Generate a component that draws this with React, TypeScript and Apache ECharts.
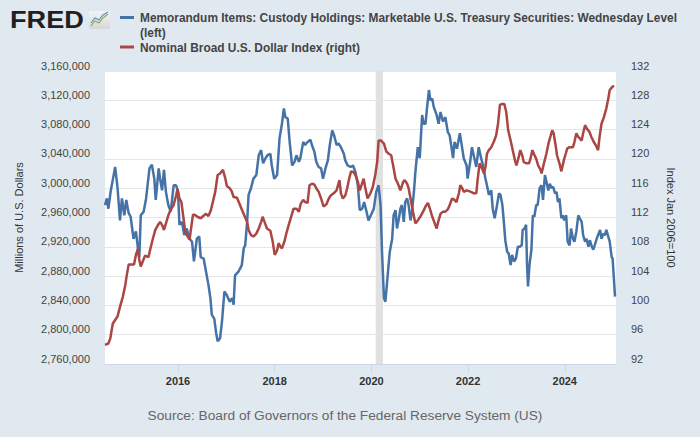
import React, { useEffect, useRef } from "react";
import * as echarts from "echarts";

// Custody holdings (left axis), decimal year / millions of dollars
const custodyYears = [
  2014.49, 2014.53, 2014.56, 2014.61, 2014.65, 2014.70, 2014.75, 2014.80, 2014.84, 2014.89, 2014.93, 2014.98,
  2015.02, 2015.08, 2015.13, 2015.18, 2015.20, 2015.23, 2015.29, 2015.34, 2015.41, 2015.46, 2015.51, 2015.54,
  2015.60, 2015.63, 2015.67, 2015.71, 2015.75, 2015.80, 2015.85, 2015.91, 2015.96, 2016.00, 2016.03, 2016.08,
  2016.13, 2016.18, 2016.24, 2016.29, 2016.33, 2016.39, 2016.44, 2016.47, 2016.53, 2016.58, 2016.63, 2016.67,
  2016.70, 2016.75, 2016.79, 2016.82, 2016.87, 2016.91, 2016.96, 2017.01, 2017.07, 2017.12, 2017.15, 2017.18,
  2017.25, 2017.32, 2017.36, 2017.39, 2017.43, 2017.46, 2017.51, 2017.56, 2017.62, 2017.67, 2017.72, 2017.76,
  2017.81, 2017.85, 2017.91, 2017.94, 2017.99, 2018.05, 2018.10, 2018.15, 2018.19, 2018.22, 2018.27, 2018.31,
  2018.36, 2018.41, 2018.45, 2018.50, 2018.53, 2018.59, 2018.63, 2018.68, 2018.74, 2018.77, 2018.82, 2018.86,
  2018.91, 2018.96, 2019.00, 2019.05, 2019.10, 2019.14, 2019.19, 2019.23, 2019.28, 2019.32, 2019.37, 2019.43,
  2019.46, 2019.51, 2019.57, 2019.62, 2019.67, 2019.72, 2019.76, 2019.81, 2019.85, 2019.90, 2019.94, 2019.99,
  2020.05, 2020.10, 2020.15, 2020.19, 2020.22, 2020.26, 2020.29, 2020.32, 2020.38, 2020.43, 2020.46, 2020.50,
  2020.53, 2020.57, 2020.60, 2020.63, 2020.67, 2020.70, 2020.74, 2020.77, 2020.81, 2020.84, 2020.88, 2020.91,
  2020.96, 2021.00, 2021.05, 2021.08, 2021.12, 2021.15, 2021.19, 2021.22, 2021.26, 2021.29, 2021.35, 2021.39,
  2021.43, 2021.48, 2021.53, 2021.58, 2021.62, 2021.65, 2021.69, 2021.72, 2021.77, 2021.83, 2021.88, 2021.91,
  2021.97, 2021.99, 2022.04, 2022.08, 2022.13, 2022.17, 2022.22, 2022.27, 2022.31, 2022.36, 2022.39, 2022.43,
  2022.48, 2022.51, 2022.55, 2022.60, 2022.64, 2022.67, 2022.71, 2022.74, 2022.77, 2022.81, 2022.84, 2022.88,
  2022.91, 2022.95, 2022.99, 2023.03, 2023.07, 2023.11, 2023.13, 2023.17, 2023.20, 2023.22, 2023.24, 2023.27,
  2023.31, 2023.34, 2023.37, 2023.41, 2023.44, 2023.48, 2023.52, 2023.55, 2023.59, 2023.62, 2023.66, 2023.69,
  2023.73, 2023.76, 2023.80, 2023.83, 2023.86, 2023.89, 2023.93, 2023.96, 2023.99, 2024.03, 2024.06, 2024.10,
  2024.13, 2024.17, 2024.20, 2024.24, 2024.28, 2024.31, 2024.35, 2024.38, 2024.42, 2024.45, 2024.49, 2024.52,
  2024.55, 2024.59, 2024.62, 2024.66, 2024.69, 2024.73, 2024.76, 2024.80, 2024.83, 2024.86, 2024.90, 2024.93,
  2024.97, 2024.99, 2025.04,
];
const custodyValues = [
  2977000, 2986000, 2972000, 2997000, 3011000, 3029000, 3000000, 2956000, 2986000, 2963000, 2984000, 2966000,
  2961000, 2931000, 2941000, 2913000, 2906000, 2963000, 2968000, 2986000, 3027000, 3032000, 3013000, 2984000,
  3027000, 3013000, 2997000, 3025000, 2995000, 2977000, 2968000, 3004000, 3004000, 2995000, 2950000, 2954000,
  2936000, 2945000, 2931000, 2927000, 2900000, 2931000, 2934000, 2906000, 2904000, 2886000, 2868000, 2850000,
  2827000, 2822000, 2802000, 2791000, 2795000, 2818000, 2859000, 2854000, 2845000, 2850000, 2841000, 2881000,
  2886000, 2895000, 2918000, 2922000, 2954000, 2991000, 3000000, 3013000, 3018000, 3045000, 3052000, 3034000,
  3041000, 3045000, 3047000, 3031000, 3013000, 3018000, 3068000, 3088000, 3109000, 3097000, 3095000, 3063000,
  3031000, 3036000, 3045000, 3036000, 3041000, 3063000, 3059000, 3063000, 3066000, 3059000, 3050000, 3036000,
  3029000, 3027000, 3013000, 3027000, 3038000, 3059000, 3079000, 3072000, 3059000, 3061000, 3056000, 3047000,
  3038000, 3031000, 3029000, 3031000, 3022000, 3004000, 2970000, 2972000, 2981000, 2968000, 2956000, 2963000,
  2972000, 2995000, 3004000, 2977000, 2913000, 2850000, 2845000, 2868000, 2913000, 2931000, 2963000, 2970000,
  2945000, 2959000, 2972000, 2977000, 2954000, 2981000, 2986000, 2977000, 2956000, 2968000, 2995000, 3022000,
  3056000, 3041000, 3100000, 3088000, 3088000, 3109000, 3134000, 3120000, 3122000, 3111000, 3100000, 3088000,
  3104000, 3091000, 3097000, 3077000, 3072000, 3059000, 3041000, 3063000, 3054000, 3075000, 3054000, 3041000,
  3031000, 3013000, 3034000, 3056000, 3041000, 3029000, 3056000, 3041000, 3031000, 3013000, 3004000, 2991000,
  2997000, 2972000, 2959000, 2977000, 2993000, 2991000, 2977000, 2954000, 2929000, 2913000, 2911000, 2895000,
  2909000, 2900000, 2904000, 2920000, 2920000, 2922000, 2943000, 2945000, 2950000, 2895000, 2866000, 2895000,
  2916000, 2963000, 2961000, 2977000, 2977000, 3000000, 3004000, 2984000, 3018000, 3009000, 2997000, 3006000,
  3000000, 3002000, 2993000, 2995000, 2981000, 2986000, 2959000, 2963000, 2956000, 2963000, 2927000, 2922000,
  2945000, 2931000, 2927000, 2941000, 2963000, 2959000, 2954000, 2936000, 2927000, 2931000, 2920000, 2929000,
  2922000, 2916000, 2922000, 2931000, 2936000, 2943000, 2931000, 2938000, 2936000, 2943000, 2934000, 2927000,
  2906000, 2904000, 2852000,
];

// Nominal Broad U.S. Dollar Index (right axis)
const dollarYears = [
  2014.49, 2014.56, 2014.60, 2014.65, 2014.70, 2014.75, 2014.80, 2014.86, 2014.91, 2014.94, 2014.98, 2015.04,
  2015.09, 2015.13, 2015.17, 2015.20, 2015.23, 2015.27, 2015.32, 2015.39, 2015.42, 2015.48, 2015.53, 2015.58,
  2015.63, 2015.67, 2015.71, 2015.76, 2015.80, 2015.85, 2015.91, 2015.96, 2015.99, 2016.03, 2016.07, 2016.11,
  2016.15, 2016.20, 2016.24, 2016.27, 2016.31, 2016.36, 2016.40, 2016.47, 2016.54, 2016.58, 2016.63, 2016.68,
  2016.72, 2016.77, 2016.82, 2016.87, 2016.93, 2016.98, 2017.01, 2017.07, 2017.11, 2017.15, 2017.22, 2017.27,
  2017.32, 2017.37, 2017.43, 2017.46, 2017.51, 2017.56, 2017.62, 2017.67, 2017.72, 2017.75, 2017.79, 2017.84,
  2017.91, 2017.96, 2018.00, 2018.05, 2018.08, 2018.12, 2018.15, 2018.20, 2018.24, 2018.29, 2018.34, 2018.39,
  2018.45, 2018.50, 2018.54, 2018.59, 2018.63, 2018.68, 2018.72, 2018.77, 2018.82, 2018.86, 2018.91, 2018.96,
  2019.01, 2019.07, 2019.12, 2019.16, 2019.22, 2019.28, 2019.30, 2019.34, 2019.37, 2019.41, 2019.46, 2019.50,
  2019.54, 2019.58, 2019.63, 2019.67, 2019.72, 2019.76, 2019.84, 2019.87, 2019.92, 2019.98, 2020.03, 2020.08,
  2020.12, 2020.15, 2020.20, 2020.26, 2020.31, 2020.36, 2020.41, 2020.45, 2020.50, 2020.55, 2020.60, 2020.66,
  2020.69, 2020.74, 2020.77, 2020.81, 2020.86, 2020.91, 2020.96, 2021.01, 2021.07, 2021.12, 2021.17, 2021.21,
  2021.26, 2021.30, 2021.35, 2021.39, 2021.43, 2021.48, 2021.53, 2021.58, 2021.62, 2021.67, 2021.72, 2021.76,
  2021.81, 2021.84, 2021.88, 2021.91, 2021.97, 2022.02, 2022.06, 2022.12, 2022.17, 2022.20, 2022.24, 2022.29,
  2022.33, 2022.36, 2022.39, 2022.43, 2022.48, 2022.53, 2022.58, 2022.62, 2022.66, 2022.71, 2022.75, 2022.79,
  2022.83, 2022.88, 2022.93, 2022.97, 2023.00, 2023.05, 2023.08, 2023.12, 2023.15, 2023.20, 2023.26, 2023.29,
  2023.33, 2023.36, 2023.41, 2023.45, 2023.50, 2023.52, 2023.57, 2023.62, 2023.67, 2023.71, 2023.74, 2023.77,
  2023.81, 2023.84, 2023.89, 2023.93, 2023.98, 2024.02, 2024.05, 2024.10, 2024.17, 2024.20, 2024.24, 2024.28,
  2024.31, 2024.35, 2024.38, 2024.42, 2024.46, 2024.51, 2024.55, 2024.60, 2024.64, 2024.69, 2024.72, 2024.76,
  2024.81, 2024.86, 2024.90, 2024.93, 2024.98, 2025.02,
];
const dollarValues = [
  94.6, 94.8, 95.5, 97.5, 98.0, 98.5, 99.8, 101.2, 102.8, 104.1, 105.6, 105.6,
  105.6, 106.9, 107.7, 106.2, 105.3, 106.0, 106.8, 106.6, 107.5, 109.1, 110.3, 110.9,
  111.4, 111.0, 110.3, 111.4, 112.3, 113.1, 113.7, 115.0, 115.9, 114.6, 114.1, 112.1,
  110.0, 109.4, 109.0, 110.5, 112.4, 112.3, 112.1, 111.9, 112.3, 112.5, 112.2, 113.0,
  114.1, 115.5, 117.8, 118.0, 118.5, 117.3, 116.3, 116.0, 115.6, 114.8, 114.7, 113.9,
  113.1, 112.3, 111.4, 110.3, 109.6, 109.4, 109.8, 110.5, 111.4, 112.1, 111.4, 110.5,
  110.2, 108.7, 106.9, 107.5, 108.5, 108.0, 107.8, 108.7, 109.8, 111.0, 112.1, 113.2,
  113.2, 112.8, 113.9, 114.4, 114.1, 114.0, 116.4, 116.6, 116.5, 116.0, 115.5, 114.6,
  113.5, 113.8, 114.6, 115.0, 115.3, 115.7, 116.2, 117.1, 115.3, 114.6, 115.0, 116.0,
  117.3, 118.3, 118.2, 117.8, 116.9, 115.7, 117.3, 116.2, 114.6, 115.3, 116.2, 117.8,
  119.6, 122.5, 122.5, 122.1, 121.0, 120.7, 120.5, 119.1, 117.3, 116.6, 115.7, 116.9,
  117.1, 116.6, 116.0, 114.6, 112.8, 111.2, 111.6, 112.1, 112.8, 113.5, 114.0, 113.2,
  112.1, 111.4, 110.5, 111.6, 112.5, 112.8, 112.8, 113.1, 113.7, 114.6, 114.4, 114.1,
  115.3, 116.4, 116.0, 115.5, 115.7, 115.6, 115.5, 115.3, 115.3, 117.3, 119.4, 118.7,
  118.0, 118.9, 120.7, 121.2, 121.6, 122.3, 123.2, 124.8, 127.4, 127.5, 127.5, 126.4,
  123.9, 122.5, 121.0, 119.8, 119.1, 120.3, 121.2, 120.5, 119.6, 119.4, 119.4, 120.0,
  121.2, 120.7, 120.0, 119.1, 118.5, 118.0, 119.4, 120.7, 122.3, 123.2, 123.9, 123.5,
  121.9, 120.5, 119.4, 118.3, 119.8, 120.7, 121.4, 121.6, 121.6, 122.3, 123.5, 123.0,
  122.8, 122.5, 123.5, 124.6, 124.1, 123.7, 123.0, 122.3, 121.9, 121.2, 123.0, 124.8,
  125.7, 126.9, 128.2, 129.4, 129.8, 130.0,
];

const yearTicks = [2016, 2018, 2020, 2022, 2024];
const recession = [2020.09, 2020.24];
const xRange = [2014.49, 2025.06];
const leftRange = [2760000, 3160000, 40000];
const rightRange = [92, 132, 4];

const legendLine1 = "Memorandum Items: Custody Holdings: Marketable U.S. Treasury Securities: Wednesday Level";
const legendLine2 = "(left)";
const legendRed = "Nominal Broad U.S. Dollar Index (right)";
const sourceText = "Source: Board of Governors of the Federal Reserve System (US)";
const leftName = "Millions of U.S. Dollars";
const rightName = "Index Jan 2006=100";

const BLUE = "#4572a7";
const RED = "#aa4643";
const FONT = '"Liberation Sans", Arial, sans-serif';

export default function App() {
  const ref = useRef<HTMLDivElement>(null);
  useEffect(() => {
    if (!ref.current) return;
    const chart = echarts.init(ref.current, null, { renderer: "svg" });
    const blueData = custodyYears.map((y, i) => [y, custodyValues[i]]);
    const redData = dollarYears.map((y, i) => [y, dollarValues[i]]);
    chart.setOption({
      animation: false,
      backgroundColor: "#e1e9f0",
      textStyle: { fontFamily: FONT },
      grid: {
        left: 105,
        right: 84,
        top: 71,
        bottom: 73,
        show: true,
        backgroundColor: "#ffffff",
        borderWidth: 0,
      },
      xAxis: {
        type: "value",
        min: xRange[0],
        max: xRange[1],
        splitLine: { show: false },
        axisLine: { show: true, lineStyle: { color: "#ccd6eb", width: 1 } },
        axisTick: { show: true, length: 8, lineStyle: { color: "#ccd6eb" }, customValues: yearTicks },
        axisLabel: {
          customValues: yearTicks,
          formatter: (v: number) => String(Math.round(v)),
          color: "#333333",
          fontWeight: "bold",
          fontSize: 11,
          fontFamily: FONT,
          margin: 11,
        },
      },
      yAxis: [
        {
          type: "value",
          position: "left",
          min: leftRange[0],
          max: leftRange[1],
          interval: leftRange[2],
          name: leftName,
          nameLocation: "middle",
          nameGap: 81,
          nameTextStyle: { color: "#333333", fontSize: 11, fontFamily: FONT },
          axisLine: { show: false },
          axisTick: { show: false },
          splitLine: { show: true, lineStyle: { color: "#e6e6e6", width: 1 } },
          axisLabel: {
            formatter: (v: number) => v.toLocaleString("en-US"),
            color: "#444444",
            fontSize: 11,
            fontFamily: FONT,
            margin: 15,
            verticalAlign: "bottom",
            lineHeight: 11,
          },
        },
        {
          type: "value",
          position: "right",
          min: rightRange[0],
          max: rightRange[1],
          interval: rightRange[2],
          name: rightName,
          nameLocation: "middle",
          nameGap: 49,
          nameRotate: -90,
          nameTextStyle: { color: "#333333", fontSize: 11, fontFamily: FONT },
          axisLine: { show: false },
          axisTick: { show: false },
          splitLine: { show: false },
          axisLabel: {
            color: "#444444",
            fontSize: 11,
            fontFamily: FONT,
            margin: 15,
            verticalAlign: "bottom",
            lineHeight: 11,
          },
        },
      ],
      series: [
        {
          type: "line",
          name: "Custody Holdings",
          yAxisIndex: 0,
          data: blueData,
          showSymbol: false,
          lineStyle: { color: BLUE, width: 2.5 },
          itemStyle: { color: BLUE },
          markArea: {
            silent: true,
            itemStyle: { color: "#e1e1e1" },
            data: [[{ xAxis: recession[0] }, { xAxis: recession[1] }]],
          },
        },
        {
          type: "line",
          name: "Dollar Index",
          yAxisIndex: 1,
          data: redData,
          showSymbol: false,
          lineStyle: { color: RED, width: 2.5 },
          itemStyle: { color: RED },
        },
      ],
      graphic: [
        {
          type: "text",
          x: 10,
          y: 19.5,
          scaleX: 1.13,
          style: { text: "FRED", font: `bold 24px ${FONT}`, fill: "#231f20", verticalAlign: "middle", align: "left" },
        },
        {
          type: "rect",
          shape: { x: 89, y: 11, width: 21, height: 18, r: 1 },
          style: {
            fill: new echarts.graphic.LinearGradient(0, 0, 0, 1, [
              { offset: 0, color: "#f4f4f4" },
              { offset: 1, color: "#d6d6d6" },
            ]),
          },
        },
        {
          type: "polyline",
          shape: { points: [[91, 26], [95, 21], [99, 23], [103, 18], [108, 14]] },
          style: { stroke: "#8cb04f", lineWidth: 1.2, fill: "none" },
        },
        {
          type: "polyline",
          shape: { points: [[91, 23], [95, 18], [99, 20], [103, 15], [108, 12]] },
          style: { stroke: "#5b8ec7", lineWidth: 1.2, fill: "none" },
        },
        {
          type: "line",
          shape: { x1: 120, y1: 17.5, x2: 134, y2: 17.5 },
          style: { stroke: BLUE, lineWidth: 3 },
        },
        {
          type: "text",
          x: 140,
          y: 18,
          style: { text: legendLine1, font: `bold 11.9px ${FONT}`, fill: "#444444", verticalAlign: "middle" },
        },
        {
          type: "text",
          x: 140,
          y: 33,
          style: { text: legendLine2, font: `bold 11.9px ${FONT}`, fill: "#444444", verticalAlign: "middle" },
        },
        {
          type: "line",
          shape: { x1: 120, y1: 47, x2: 134, y2: 47 },
          style: { stroke: RED, lineWidth: 3 },
        },
        {
          type: "text",
          x: 140,
          y: 47.5,
          style: { text: legendRed, font: `bold 11.9px ${FONT}`, fill: "#444444", verticalAlign: "middle" },
        },
        {
          type: "text",
          x: 345,
          y: 415,
          style: { text: sourceText, font: `13.7px ${FONT}`, fill: "#666666", align: "center", verticalAlign: "middle" },
        },
      ],
    });
    return () => chart.dispose();
  }, []);
  return <div ref={ref} style={{ position: "absolute", left: 0, top: 0, width: 700, height: 437 }} />;
}
